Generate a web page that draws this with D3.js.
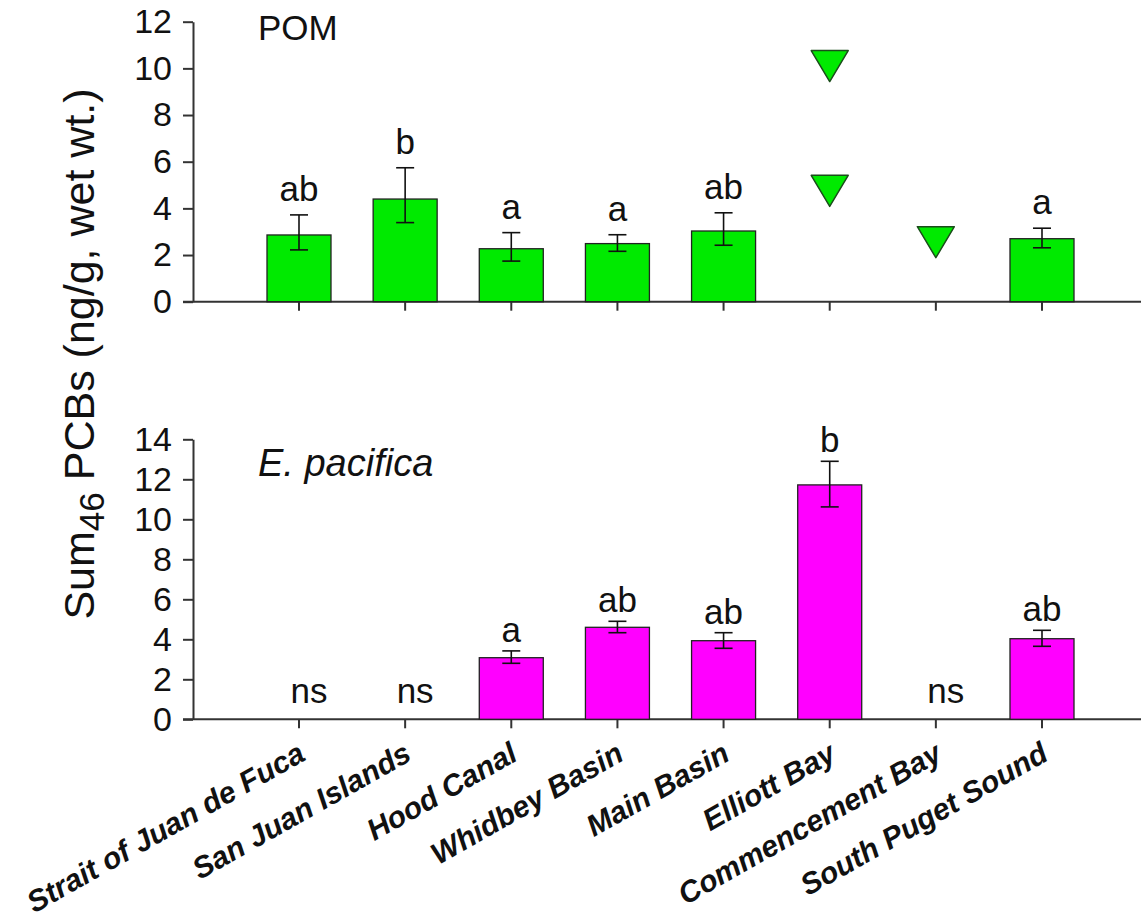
<!DOCTYPE html>
<html>
<head>
<meta charset="utf-8">
<script src="https://cdn.jsdelivr.net/npm/d3@7"></script>
<style>
  html, body { margin: 0; padding: 0; background: #fff; }
  svg { display: block; font-family: "Liberation Sans", Arial, sans-serif; }
</style>
</head>
<body>
<svg id="chart" width="1141" height="919"></svg>
<script>
// Sampling regions, in plotting order
const regions = ["Strait of Juan de Fuca", "San Juan Islands", "Hood Canal", "Whidbey Basin",
                 "Main Basin", "Elliott Bay", "Commencement Bay", "South Puget Sound"];

// POM: mean, upper and lower error-bar ends (ng/g wet wt.); null = no bar
const pomMean  = [2.86, 4.40, 2.27, 2.49, 3.03, null, null, 2.70];
const pomUpper = [3.72, 5.74, 2.96, 2.87, 3.81, null, null, 3.15];
const pomLower = [2.22, 3.39, 1.74, 2.16, 2.42, null, null, 2.31];
const pomLetters = ["ab", "b", "a", "a", "ab", "", "", "a"];
// POM single samples drawn as triangles
const pomPointRegion = ["Elliott Bay", "Elliott Bay", "Commencement Bay"];
const pomPointValue  = [10.1, 4.75, 2.55];

// E. pacifica: mean, upper and lower error-bar ends
const epMean  = [null, null, 3.08, 4.60, 3.93, 11.72, null, 4.03];
const epUpper = [null, null, 3.42, 4.90, 4.33, 12.90, null, 4.45];
const epLower = [null, null, 2.80, 4.33, 3.55, 10.62, null, 3.65];
const epLetters = ["ns", "ns", "a", "ab", "ab", "b", "ns", "ab"];

const pomTicks = [0, 2, 4, 6, 8, 10, 12];
const epTicks  = [0, 2, 4, 6, 8, 10, 12, 14];

const svg = d3.select("#chart");
const axisColor = "#333";
const textColor = "#111";

const x = d3.scalePoint().domain(regions).range([299, 1042]);
const barW = 64;
const axisX = 193;

function panel(opts) {
  const y = d3.scaleLinear().domain(opts.domain).range(opts.range);
  const g = svg.append("g");
  const y0 = y(0);

  // baseline across the plot
  g.append("line")
    .attr("x1", axisX - 10).attr("x2", 1141)
    .attr("y1", y0).attr("y2", y0)
    .attr("stroke", axisColor).attr("stroke-width", 2);

  // category ticks
  g.selectAll("line.xt").data(regions).enter().append("line")
    .attr("class", "xt")
    .attr("x1", d => x(d)).attr("x2", d => x(d))
    .attr("y1", y0).attr("y2", y0 + 9)
    .attr("stroke", axisColor).attr("stroke-width", 2);

  // y axis
  const ax = g.append("g").attr("transform", `translate(${axisX},0)`)
    .call(d3.axisLeft(y).tickValues(opts.ticks).tickSize(10).tickSizeOuter(0).tickPadding(11));
  ax.select(".domain").attr("stroke", axisColor).attr("stroke-width", 2);
  ax.selectAll(".tick line").attr("stroke", axisColor).attr("stroke-width", 2);
  ax.selectAll(".tick text")
    .attr("font-size", 34).attr("fill", textColor)
    .attr("font-family", "Liberation Sans, Arial, sans-serif");

  const rows = regions.map((r, i) => ({ r, m: opts.mean[i], hi: opts.upper[i], lo: opts.lower[i], t: opts.letters[i] }));
  const bars = rows.filter(d => d.m !== null);

  g.selectAll("rect.bar").data(bars).enter().append("rect")
    .attr("class", "bar")
    .attr("x", d => x(d.r) - barW / 2).attr("width", barW)
    .attr("y", d => y(d.m)).attr("height", d => y0 - y(d.m))
    .attr("fill", opts.color).attr("stroke", "#222").attr("stroke-width", 1.3);

  // error bars
  const eb = g.selectAll("g.eb").data(bars).enter().append("g").attr("class", "eb")
    .attr("stroke", "#111").attr("stroke-width", 1.6);
  eb.append("line").attr("x1", d => x(d.r)).attr("x2", d => x(d.r))
    .attr("y1", d => y(d.hi)).attr("y2", d => y(d.lo));
  eb.append("line").attr("x1", d => x(d.r) - 9).attr("x2", d => x(d.r) + 9)
    .attr("y1", d => y(d.hi)).attr("y2", d => y(d.hi));
  eb.append("line").attr("x1", d => x(d.r) - 9).attr("x2", d => x(d.r) + 9)
    .attr("y1", d => y(d.lo)).attr("y2", d => y(d.lo));

  // significance letters
  g.selectAll("text.sig").data(rows.filter(d => d.t)).enter().append("text")
    .attr("class", "sig")
    .attr("x", d => d.m === null ? x(d.r) + 10 : x(d.r))
    .attr("y", d => d.m === null ? y0 - 16 : y(d.hi) - opts.letterGap)
    .attr("text-anchor", "middle")
    .attr("font-size", 35).attr("fill", textColor)
    .text(d => d.t);

  // panel title
  g.append("text")
    .attr("x", 258).attr("y", opts.titleY)
    .attr("font-size", opts.titleSize).attr("fill", textColor)
    .attr("font-style", opts.italic ? "italic" : "normal")
    .text(opts.title);

  return { y, g, y0 };
}

const pomPanel = panel({
  domain: [0, 12], range: [301.7, 21.7], ticks: pomTicks,
  mean: pomMean, upper: pomUpper, lower: pomLower, letters: pomLetters,
  color: "#00ea00", letterGap: 14, title: "POM", titleY: 40, titleSize: 35, italic: false
});

// triangle markers for single POM samples
const triW = 37, triH = 31;
pomPanel.g.selectAll("path.tri").data(pomPointValue.map((v, i) => ({ r: pomPointRegion[i], v })))
  .enter().append("path")
  .attr("class", "tri")
  .attr("d", d => {
    const cx = x(d.r), cy = pomPanel.y(d.v);
    return `M${cx - triW / 2},${cy - triH / 2}L${cx + triW / 2},${cy - triH / 2}L${cx},${cy + triH / 2}Z`;
  })
  .attr("fill", "#00ea00").attr("stroke", "#1a4d1a").attr("stroke-width", 1.5)
  .attr("stroke-linejoin", "round");

const epPanel = panel({
  domain: [0, 14], range: [719.3, 439.3], ticks: epTicks,
  mean: epMean, upper: epUpper, lower: epLower, letters: epLetters,
  color: "#ff00ff", letterGap: 9, title: "E. pacifica", titleY: 476, titleSize: 38, italic: true
});

// rotated category labels under the lower panel
svg.append("g").selectAll("text").data(regions).enter().append("text")
  .attr("transform", d => `translate(${x(d) + 8},${epPanel.y0 + 40}) rotate(-29.5)`)
  .attr("text-anchor", "end")
  .attr("font-size", 30).attr("font-weight", "bold").attr("font-style", "italic")
  .attr("fill", textColor)
  .text(d => d);

// shared y-axis title
const yt = svg.append("text")
  .attr("transform", "translate(94,354) rotate(-90)")
  .attr("text-anchor", "middle")
  .attr("font-size", 43).attr("fill", textColor);
yt.append("tspan").text("Sum");
yt.append("tspan").attr("font-size", 35).attr("dy", 10).text("46");
yt.append("tspan").attr("dy", -10).text(" PCBs (ng/g, wet wt.)");
</script>
</body>
</html>
